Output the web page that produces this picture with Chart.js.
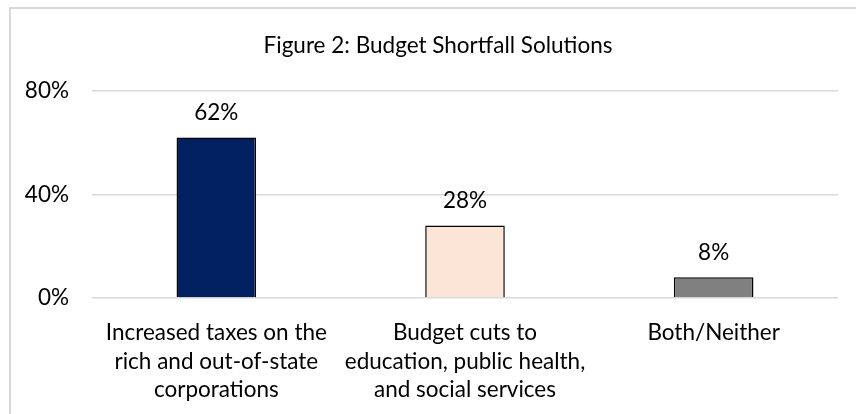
<!DOCTYPE html>
<html>
<head>
<meta charset="utf-8">
<script src="https://cdn.jsdelivr.net/npm/chart.js@4.4.1/dist/chart.umd.min.js"></script>
<style>
    body { margin: 0; background: #fff; overflow: hidden; }
    #wrap { position: relative; width: 856px; height: 414px; }
    #frame {
        position: absolute; left: 9px; top: 7px; width: 900px; height: 500px;
        border: 2px solid #d9d9d9; pointer-events: none;
    }
</style>
</head>
<body>
<div id="wrap">
    <canvas id="budgetChart" width="856" height="414"></canvas>
    <div id="frame"></div>
</div>
<script>
const chartTitle = 'Figure 2: Budget Shortfall Solutions';
const categories = [
    ['Increased taxes on the', 'rich and out-of-state', 'corporations'],
    ['Budget cuts to', 'education, public health,', 'and social services'],
    ['Both/Neither']
];
const shares = [62, 28, 8];
const barColors = ['#002060', '#fbe5d6', '#808080'];
const yTicks = [0, 40, 80];

const fontFamily = 'Lato, "Open Sans", sans-serif';
const fontSize = 22.5;
const textColor = '#000';

// title centred over the chart frame, value labels above the bars
const labelPlugin = {
    id: 'labels',
    afterDatasetsDraw(chart) {
        const ctx = chart.ctx;
        ctx.save();
        ctx.fillStyle = textColor;
        ctx.textAlign = 'center';
        ctx.textBaseline = 'middle';
        ctx.font = fontSize + 'px ' + fontFamily;
        ctx.fillText(chartTitle, 438, 46);

        const meta = chart.getDatasetMeta(0);
        meta.data.forEach((bar, i) => {
            ctx.fillText(shares[i] + '%', bar.x, bar.y - 25);
        });
        ctx.restore();
    }
};

const ctx = document.getElementById('budgetChart').getContext('2d');
new Chart(ctx, {
    type: 'bar',
    data: {
        labels: categories,
        datasets: [{
            data: shares,
            backgroundColor: barColors,
            borderColor: '#000',
            borderWidth: 1.5,
            borderSkipped: 'bottom',
            categoryPercentage: 1,
            barPercentage: 0.32
        }]
    },
    options: {
        responsive: false,
        animation: false,
        layout: { padding: { top: 91, right: 18, bottom: 0, left: 0 } },
        plugins: {
            legend: { display: false },
            title: { display: false },
            tooltip: { enabled: false }
        },
        scales: {
            x: {
                grid: { display: false },
                border: { display: false },
                ticks: {
                    color: textColor,
                    font: { family: fontFamily, size: fontSize, lineHeight: 1.26 },
                    padding: 13,
                    maxRotation: 0,
                    autoSkip: false
                },
                afterFit(scale) { scale.height = 116; }
            },
            y: {
                min: 0,
                max: 80,
                afterBuildTicks(scale) {
                    scale.ticks = yTicks.map(v => ({ value: v }));
                },
                grid: { color: '#d9d9d9', lineWidth: 1.5, drawTicks: false },
                border: { display: false },
                ticks: {
                    color: textColor,
                    font: { family: fontFamily, size: fontSize },
                    padding: 23,
                    callback: function(value) { return value + '%'; }
                },
                afterFit(scale) { scale.width = 92; }
            }
        }
    },
    plugins: [labelPlugin]
});
</script>
</body>
</html>
